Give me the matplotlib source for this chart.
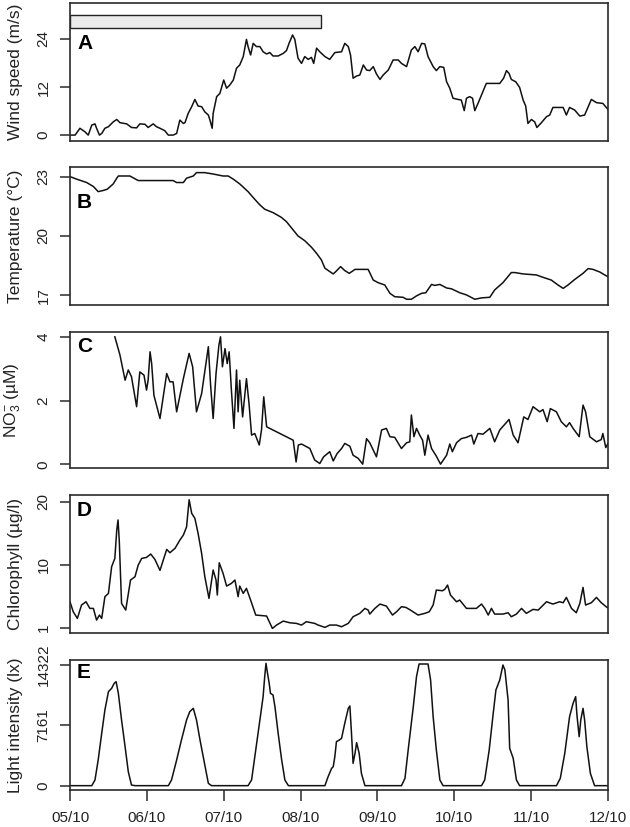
import numpy as np
import matplotlib.pyplot as plt

plt.rcParams['font.family'] = ['Liberation Sans', 'DejaVu Sans']
plt.rcParams['mathtext.fontset'] = 'custom'
plt.rcParams['mathtext.rm'] = 'Liberation Sans'
plt.rcParams['mathtext.it'] = 'Liberation Sans:italic'
plt.rcParams['mathtext.bf'] = 'Liberation Sans:bold'

# x axis: hours since 05/10 00:00
date_ticks = [0, 24, 48, 72, 96, 120, 144, 168]
date_labels = ['05/10', '06/10', '07/10', '08/10', '09/10', '10/10', '11/10', '12/10']

# shaded period in panel A (hours)
storm_start = 0
storm_end = 78.5

# A: wind speed (m/s)
wind_h = [0, 1.6, 3.1, 4.7, 5.7, 6.8, 7.8, 8.3, 9.2, 9.9, 10.9, 12.0, 13.5, 14.6, 15.6,
          17.7, 19.2, 20.8, 21.8, 23.4, 24.4, 26.0, 27.0, 28.1, 29.6, 30.7, 32.2, 33.3,
          34.3, 35.4, 35.9, 36.9, 38.0, 39.0, 40.0, 41.1, 42.1, 43.2, 43.7, 44.4, 44.7,
          45.8, 46.8, 48.0, 48.9, 49.9, 51.0, 52.0, 53.0, 54.1, 55.1, 55.6, 56.4, 57.2,
          58.2, 59.3, 60.3, 61.4, 62.4, 63.4, 65.0, 66.6, 67.6, 68.4, 69.5, 70.2, 71.2,
          72.3, 73.3, 74.4, 75.4, 76.1, 77.0, 78.0, 79.6, 81.1, 82.7, 84.8, 85.8, 86.9,
          87.6, 88.4, 89.5, 90.5, 91.6, 92.6, 93.6, 94.7, 95.7, 96.8, 97.8, 99.4, 100.9,
          102.5, 103.5, 105.1, 106.6, 107.7, 108.7, 109.8, 110.8, 111.8, 113.4, 114.4,
          115.5, 116.7, 117.6, 118.6, 119.6, 121.2, 122.2, 123.1, 123.8, 124.8, 125.7,
          126.4, 127.4, 128.5, 130.0, 132.1, 134.2, 135.4, 136.3, 137.1, 137.8, 139.2,
          140.4, 141.5, 142.3, 143.0, 144.1, 145.1, 145.8, 147.2, 148.8, 149.8, 150.8,
          154.0, 155.0, 156.0, 157.6, 159.2, 160.7, 162.8, 164.4, 166.4, 168.0]
wind_ms = [0.0, 0.0, 1.7, 0.8, 0.0, 2.5, 2.8, 1.7, 0.0, 0.4, 1.7, 2.1, 3.3, 3.9, 3.1,
           2.8, 1.9, 1.8, 2.8, 2.7, 1.9, 2.8, 2.1, 1.7, 1.1, 0.0, 0.0, 0.4,
           3.75, 2.9, 3.1, 5.4, 7.1, 8.9, 7.25, 7.1, 5.8, 5.0, 3.75, 1.7, 5.4,
           9.6, 10.4, 13.75, 11.7, 12.5, 13.75, 16.7, 17.5, 19.6, 23.9, 22.1, 20.0, 22.9,
           22.1, 22.1, 20.8, 20.25, 20.6, 19.75, 19.75, 20.4, 21.1, 22.9, 25.0, 23.9, 19.2,
           17.9, 19.6, 18.9, 19.4, 17.9, 21.7, 20.8, 19.6, 18.9, 20.6, 20.8, 22.9, 22.1,
           20.0, 14.2, 14.75, 15.0, 17.5, 16.25, 16.1, 17.1, 15.25, 13.9, 15.0, 16.25, 18.75,
           18.75, 17.9, 17.1, 21.25, 22.1, 20.8, 22.9, 22.75, 19.6, 17.1, 16.1,
           17.1, 16.9, 13.3, 11.7, 9.2, 8.9, 8.75, 6.1, 9.2, 9.6, 9.2,
           6.1, 7.9, 10.0, 12.9, 12.9, 12.9, 14.2, 16.1, 15.4, 13.9, 13.3,
           11.9, 8.75, 7.25, 2.9, 3.9, 3.3, 1.9, 3.1, 4.6, 5.0, 6.9,
           6.9, 5.0, 6.9, 6.25, 4.75, 5.0, 8.9, 8.1, 7.9, 6.4]

# B: temperature (deg C)
temp_h = [0, 2.1, 5.2, 7.3, 8.8, 10.4, 11.6, 13.5, 14.6, 15.1, 18.7, 21.3, 25.0, 32.2,
          33.3, 35.4, 36.4, 38.5, 39.5, 42.1, 44.7, 47.8, 49.4, 51.0, 53.0, 55.6, 57.7,
          59.3, 60.8, 63.4, 66.0, 67.6, 69.7, 71.2, 73.3, 75.4, 77.0, 78.5, 79.6, 81.1,
          82.2, 83.0, 84.5, 85.8, 87.2, 89.0, 90.5, 93.1, 94.7, 96.2, 98.3, 99.9, 101.4,
          104.0, 105.1, 106.6, 108.2, 109.8, 111.1, 112.9, 113.9, 115.5, 117.6, 119.1,
          121.7, 123.8, 126.4, 128.5, 131.1, 132.6, 135.2, 137.8, 138.9, 141.5, 145.6,
          147.7, 150.3, 152.4, 154.0, 155.5, 157.6, 160.2, 161.8, 163.3, 165.4, 167.5, 168.0]
temp_c = [23.0, 22.87, 22.7, 22.5, 22.24, 22.3, 22.36, 22.63, 22.92, 23.03, 23.03, 22.8,
          22.8, 22.8, 22.7, 22.7, 22.92, 23.03, 23.2, 23.2, 23.13, 23.03, 23.03, 22.87,
          22.63, 22.24, 21.85, 21.57, 21.35, 21.18, 20.94, 20.72, 20.3, 20.0, 19.76, 19.43,
          19.12, 18.79, 18.37, 18.2, 18.08, 18.2, 18.45, 18.25, 18.11, 18.31, 18.31, 18.31,
          17.77, 17.64, 17.52, 17.1, 16.93, 16.9, 16.8, 16.8, 16.97, 17.1, 17.13, 17.55,
          17.5, 17.55, 17.37, 17.33, 17.13, 17.02, 16.8, 16.87, 16.9, 17.27, 17.64, 18.15,
          18.15, 18.08, 18.03, 17.91, 17.77, 17.52, 17.35, 17.52, 17.8, 18.11, 18.35, 18.31,
          18.18, 17.98, 17.95]

# C: nitrate (uM)
no3_h = [14.0, 15.6, 17.2, 18.2, 19.2, 20.8, 21.8, 23.1, 23.9, 24.4, 25.0, 25.5, 26.2,
         28.1, 30.2, 31.2, 32.2, 33.3, 35.4, 37.2, 38.3, 39.5, 41.1, 43.2, 43.9, 44.7,
         45.6, 46.5, 47.0, 47.6, 48.4, 49.1, 49.7, 50.4, 51.2, 52.0, 52.5, 53.0, 53.9,
         55.1, 55.9, 56.7, 57.7, 59.1, 59.8, 60.5, 61.4, 69.7, 70.6, 71.3, 72.3, 74.9,
         76.4, 78.0, 79.2, 81.1, 82.2, 83.4, 84.8, 85.8, 87.4, 88.4, 90.0, 91.4, 92.6,
         93.6, 95.7, 97.3, 98.8, 99.9, 101.4, 103.5, 105.1, 106.1, 106.6, 107.4, 108.2,
         109.2, 110.1, 110.8, 111.8, 112.9, 114.4, 115.7, 117.6, 118.6, 119.4, 120.7,
         122.2, 123.8, 125.4, 126.1, 127.4, 129.0, 131.1, 132.6, 134.2, 137.1, 138.4,
         139.9, 141.7, 143.0, 144.6, 146.7, 147.7, 149.0, 150.0, 151.9, 153.4, 155.0,
         156.0, 157.1, 159.0, 160.2, 161.0, 162.3, 164.4, 165.9, 166.4, 167.3, 168.0]
no3_um = [4.0, 3.43, 2.64, 2.96, 2.75, 1.81, 2.90, 2.80, 2.33, 2.64, 3.53, 3.16, 2.17,
          1.44, 2.85, 2.59, 2.59, 1.65, 2.69, 3.48, 3.06, 1.65, 2.22, 3.69, 2.49, 1.44,
          2.85, 3.74, 4.0, 3.06, 3.63, 3.16, 3.53, 2.33, 1.13, 2.96, 1.65, 2.64, 1.49,
          2.69, 1.91, 0.92, 0.97, 0.61, 1.08, 2.12, 1.18, 0.76, 0.08, 0.61, 0.64, 0.50,
          0.14, 0.03, 0.24, 0.40, 0.11, 0.34, 0.50, 0.66, 0.57, 0.29, 0.19, 0.01, 0.81,
          0.68, 0.24, 1.08, 1.13, 0.87, 0.85, 0.50, 0.68, 0.71, 1.55, 0.87, 1.13,
          0.92, 0.76, 0.29, 0.92, 0.50, 0.26, 0.01, 0.29, 0.64, 0.40, 0.68,
          0.81, 0.85, 0.92, 0.64, 0.97, 0.95, 1.13, 0.71, 1.08, 1.41, 0.92,
          0.68, 1.49, 1.41, 1.81, 1.65, 1.72, 1.34, 1.75, 1.65, 1.34, 1.18,
          1.31, 1.13, 0.87, 1.86, 1.65, 0.87, 0.71, 0.78, 0.97, 0.53, 0.66]

# D: chlorophyll (ug/l)
chl_h = [0, 1.0, 2.3, 3.6, 5.0, 6.2, 7.3, 8.3, 9.2, 9.9, 10.9, 12.0, 13.0, 14.0, 14.6,
         15.0, 15.4, 16.1, 17.4, 18.9, 20.3, 21.3, 22.4, 23.9, 25.2, 26.5, 28.1, 30.2,
         31.2, 32.8, 34.3, 35.4, 36.4, 37.2, 38.0, 39.0, 40.0, 41.1, 42.1, 43.4, 44.7,
         45.6, 46.0, 46.6, 47.8, 48.9, 50.4, 51.5, 52.5, 53.0, 54.1, 55.1, 56.4, 58.0,
         61.4, 63.2, 64.5, 66.6, 68.6, 70.7, 72.3, 73.8, 76.4, 77.5, 79.6, 81.1, 83.2,
         84.8, 86.9, 88.4, 90.5, 92.1, 93.1, 93.6, 95.2, 96.8, 98.8, 100.7, 102.0, 103.5,
         104.9, 106.3, 108.7, 110.8, 112.2, 113.4, 114.4, 116.3, 117.0, 117.9, 118.8,
         120.7, 121.7, 123.8, 126.9, 128.5, 129.5, 130.6, 131.6, 132.6, 135.2, 136.8,
         137.8, 139.4, 141.0, 142.5, 144.6, 146.2, 148.8, 150.8, 152.9, 154.0, 155.0,
         156.6, 158.1, 159.2, 160.2, 161.0, 162.8, 164.4, 165.9, 167.7, 168.0]
chl_ugl = [4.71, 3.29, 2.33, 4.24, 4.71, 3.76, 3.76, 2.09, 2.81, 2.33, 5.43, 5.90, 9.71,
           11.0, 15.5, 17.1, 13.65, 4.47, 3.52, 7.81, 8.29, 9.95, 11.0, 11.16, 11.69, 10.85,
           9.19, 12.43, 11.9, 12.6, 13.9, 14.7, 16.0, 20.3, 18.15, 17.35, 14.97, 11.8,
           8.29, 5.19, 9.24, 7.81, 5.67, 10.3, 8.76, 6.95, 7.33, 7.81, 5.43, 6.95, 5.90,
           6.62, 4.95, 2.81, 2.67, 0.9, 1.38, 1.95, 1.71, 1.62, 1.38, 1.86, 1.62, 1.38,
           1.05, 1.38, 1.38, 1.14, 1.62, 2.57, 3.05, 3.76, 3.52, 2.95, 3.76, 4.38, 4.09,
           2.81, 3.29, 4.00, 3.90, 3.52, 2.81, 3.05, 3.29, 4.24, 6.38, 6.28, 6.47, 7.09,
           5.67, 4.71, 4.95, 3.76, 3.76, 4.38, 3.76, 2.81, 3.76, 2.95, 2.95, 3.14, 2.57,
           2.95, 3.76, 3.05, 3.62, 3.52, 4.71, 4.38, 4.71, 4.57, 5.33, 3.76, 3.14, 4.47,
           6.76, 4.24, 4.57, 5.33, 4.57, 3.90, 3.85]

# E: light intensity (lx)
light_h = [0, 6.8, 7.8, 8.8, 9.9, 10.9, 12.0, 13.0, 13.8, 14.4, 15.1, 16.1, 17.2, 18.2,
           19.2, 20.3, 30.7, 31.7, 33.3, 34.8, 36.4, 37.4, 38.5, 39.5, 40.6, 41.8, 43.2,
           44.2, 55.6, 56.7, 58.0, 59.3, 60.3, 60.8, 61.2, 61.6, 62.2, 62.6, 63.4, 64.0,
           65.0, 66.1, 67.1, 68.2, 79.6, 80.6, 81.7, 82.2, 82.7, 83.2, 84.1, 84.8, 85.8,
           86.9, 87.4, 87.9, 88.4, 89.0, 89.5, 90.3, 91.0, 92.1, 103.5, 104.6, 105.6,
           107.2, 108.2, 109.0, 111.8, 112.6, 113.4, 114.4, 115.5, 116.5, 128.5, 129.5,
           130.9, 132.1, 133.0, 134.2, 135.2, 135.8, 136.8, 137.3, 138.4, 139.4, 140.4,
           151.9, 153.1, 154.5, 156.0, 157.1, 157.9, 158.3, 159.0, 159.5, 160.2, 160.7,
           161.4, 162.5, 163.8, 168.0]
light_lx = [0, 0, 673, 3046, 6211, 8980, 11156, 11552, 12145, 12343, 10958, 7793, 4629,
            1662, 79, 0, 0, 673, 3046, 5420, 7793, 8782, 9178, 7793, 5420, 3046, 277,
            0, 0, 673, 4233, 7793, 10563, 12936, 14518, 13529, 12145, 10958, 10760, 9376,
            6211, 3046, 673, 0, 0, 1068, 2057, 2255, 3442, 5222, 5420, 5618, 7398,
            9178, 9455, 6211, 2651, 3837, 5103, 3837, 1464, 0, 0, 870, 4233,
            9376, 12936, 14439, 14439, 12541, 8189, 4233, 673, 0, 0, 673,
            4233, 8387, 11354, 12541, 14320, 13727, 10167, 4431, 3244, 673, 0,
            0, 870, 3837, 8189, 9771, 10563, 8387, 5815, 7793, 9178, 7793,
            4629, 1464, 0, 0]


def chl_fwd(v):
    v = np.asarray(v, dtype=float)
    return np.where(v <= 10, (v - 1) / 9.0, 1 + (v - 10) / 10.0)


def chl_inv(d):
    d = np.asarray(d, dtype=float)
    return np.where(d <= 1, 1 + 9.0 * d, 10 + 10.0 * (d - 1))


W, H = 630, 827
fig = plt.figure(figsize=(6.3, 8.27), dpi=100)

# panel boxes in pixels: (top, bottom)
boxes = [(3.3, 140.7), (166.7, 305.0), (331.7, 468.3), (495.0, 632.7), (660.0, 790.0)]
left_px, right_px = 70, 608

panels = [
    dict(x=wind_h, y=wind_ms, ylab='Wind speed (m/s)', ticks=[0, 12, 24],
         tlabels=['0', '12', '24'], ylim=(-1.4, 32.9), letter='A', ly=0.711),
    dict(x=temp_h, y=temp_c, ylab='Temperature (°C)', ticks=[17, 20, 23],
         tlabels=['17', '20', '23'], ylim=(16.51, 23.5), letter='B', ly=0.738),
    dict(x=no3_h, y=no3_um, ylab=r'NO$_3^{-}$ (µM)', ticks=[0, 2, 4],
         tlabels=['0', '2', '4'], ylim=(-0.12, 4.16), letter='C', ly=0.888),
    dict(x=chl_h, y=chl_ugl, ylab='Chlorophyll (µg/l)', ticks=[1, 10, 20],
         tlabels=['1', '10', '20'], ylim=(0.29, 21.06), letter='D', ly=0.891),
    dict(x=light_h, y=light_lx, ylab='Light intensity (lx)', ticks=[0, 7161, 14322],
         tlabels=['0', '7161', '14322'], ylim=(-514, 14914), letter='E', ly=0.90),
]

edge = '#2a2a2a'
txt = '#222222'

axes = []
for i, p in enumerate(panels):
    top, bot = boxes[i]
    ax = fig.add_axes([left_px / W, 1 - bot / H, (right_px - left_px) / W, (bot - top) / H])
    if p['letter'] == 'D':
        ax.set_yscale('function', functions=(chl_fwd, chl_inv))
    ax.plot(p['x'], p['y'], color='#111111', lw=1.1)
    ax.set_xlim(0, 168)
    ax.set_ylim(*p['ylim'])
    ax.set_yticks(p['ticks'])
    ax.set_yticklabels(p['tlabels'])
    ax.yaxis.set_minor_locator(plt.NullLocator())
    ax.tick_params(axis='y', direction='out', length=7, width=1.1, color=edge,
                   labelsize=11, labelcolor=txt, pad=7, labelrotation=90)
    for lab in ax.get_yticklabels():
        lab.set_va('center')
    for s in ax.spines.values():
        s.set_color(edge)
        s.set_linewidth(1.2)
    ax.set_ylabel(p['ylab'], fontsize=12.5, color=txt)
    ax.yaxis.set_label_coords(-0.088, 0.5)
    ax.text(0.013, p['ly'], p['letter'], transform=ax.transAxes, fontsize=15,
            fontweight='bold', color='black', ha='left', va='center')
    if i < 4:
        ax.set_xticks([])
    else:
        ax.set_xticks(date_ticks)
        ax.set_xticklabels(date_labels)
        ax.tick_params(axis='x', direction='out', length=8, width=1.1, color=edge,
                       labelsize=11, labelcolor=txt, pad=7)
    axes.append(ax)

# storm period bar on top of panel A
axes[0].barh(28.35, storm_end - storm_start, left=storm_start, height=3.3,
             color='#ebebeb', edgecolor='#222222', linewidth=1.0)

fig.savefig('out.png', dpi=100)
